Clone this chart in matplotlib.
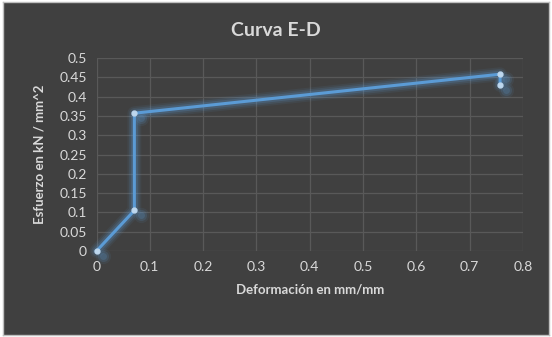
import matplotlib
matplotlib.use("Agg")
import matplotlib.pyplot as plt

deformacion = [0.0, 0.071, 0.071, 0.757, 0.757]
esfuerzo = [0.0, 0.105, 0.357, 0.458, 0.430]
xticks = [0, 0.1, 0.2, 0.3, 0.4, 0.5, 0.6, 0.7, 0.8]
yticks = [0, 0.05, 0.1, 0.15, 0.2, 0.25, 0.3, 0.35, 0.4, 0.45, 0.5]

plt.rcParams['font.family'] = ['Lato', 'DejaVu Sans']
bg = '#404040'
txt = '#d9d9d9'

fig = plt.figure(figsize=(5.52, 3.37), dpi=100, facecolor='white')
panel = fig.add_axes([0.005, 0.006, 0.99, 0.988])
panel.set_facecolor(bg)
panel.set_xticks([]); panel.set_yticks([])
for s in panel.spines.values():
    s.set_color('#bfbfbf'); s.set_linewidth(1)

W, H = 552, 337
x0, x1, yb, yt = 96.5, 523, 251, 58
ax = fig.add_axes([x0 / W, 1 - yb / H, (x1 - x0) / W, (yb - yt) / H])
ax.set_facecolor(bg)
ax.set_xlim(0, 0.8)
ax.set_ylim(0, 0.5)
ax.set_xticks(xticks)
ax.set_yticks(yticks)
ax.set_xticklabels([f'{v:g}' for v in xticks])
ax.set_yticklabels([f'{v:g}' for v in yticks])
ax.grid(True, color='#595959', linewidth=0.9)
ax.set_axisbelow(True)
for s in ax.spines.values():
    s.set_visible(False)
ax.tick_params(colors=txt, labelsize=10, length=0, pad=7)

for lw, a in [(10, 0.08), (7.5, 0.13), (5, 0.2)]:
    ax.plot(deformacion, esfuerzo, color='#5b9bd5', linewidth=lw, alpha=a,
            solid_capstyle='round', solid_joinstyle='round', clip_on=False)
sx = [d + 0.012 for d in deformacion]
sy = [e - 0.012 for e in esfuerzo]
for ms, a in [(11, 0.08), (8, 0.15), (5, 0.2)]:
    ax.plot(sx, sy, 'o', color='#5b9bd5', alpha=a, markersize=ms,
            markeredgewidth=0, linestyle='none', clip_on=False)
ax.plot(deformacion, esfuerzo, color='#5b9bd5', linewidth=2.2,
        marker='o', markersize=3.5, markerfacecolor='#bdd7ee',
        markeredgecolor='#bdd7ee', clip_on=False, zorder=5)

fig.text(0.5, 1 - 30 / H, 'Curva E-D', ha='center', va='center', color=txt,
         fontsize=14, fontweight='bold')
ax.set_xlabel('Deformación en mm/mm', color=txt, fontsize=9.5, fontweight='bold', labelpad=8)
ax.set_ylabel('Esfuerzo en kN / mm^2', color=txt, fontsize=9.5, fontweight='bold', labelpad=10)

fig.savefig('out.png', dpi=100, facecolor='white')
